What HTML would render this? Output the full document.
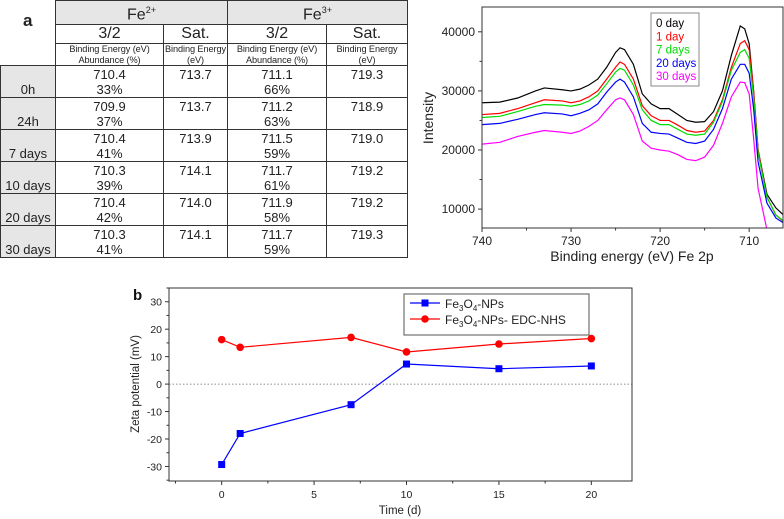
<!DOCTYPE html>
<html><head><meta charset="utf-8">
<style>
body{margin:0;width:784px;height:519px;background:#fff;font-family:"Liberation Sans",sans-serif;overflow:hidden;position:relative}
table{position:absolute;left:0;top:0;border-collapse:collapse;table-layout:fixed}
td{border:1px solid #333;padding:0;text-align:center;color:#222;font-size:13px;line-height:15px;overflow:hidden}
.g{background:#e6e6e6}
.h{font-size:16px;height:18px;line-height:18px}
.s{font-size:9.2px;line-height:10.5px;height:21px;vertical-align:top;white-space:nowrap;letter-spacing:-0.1px}
.r{height:30px;vertical-align:top;padding-top:1px}
.rh{text-align:center;vertical-align:bottom;background:#e6e6e6;height:30px;line-height:14px}
svg{position:absolute;left:0;top:0}
</style></head><body>
<table>
<colgroup><col style="width:55px"><col style="width:108px"><col style="width:64px"><col style="width:99px"><col style="width:81px"></colgroup>
<tr><td rowspan="3" style="border:none;border-right:1px solid #333;vertical-align:top;font-weight:bold;font-size:17px;padding-top:12px">a</td>
<td colspan="2" class="g h">Fe<sup style="font-size:9px">2+</sup></td>
<td colspan="2" class="g h">Fe<sup style="font-size:9px">3+</sup></td></tr>
<tr><td class="h">3/2</td><td class="h">Sat.</td><td class="h">3/2</td><td class="h">Sat.</td></tr>
<tr><td class="s">Binding Energy (eV)<br>Abundance (%)</td><td class="s">Binding Energy<br>(eV)</td><td class="s">Binding Energy (eV)<br>Abundance (%)</td><td class="s">Binding Energy<br>(eV)</td></tr>
<tr><td class="rh">0h</td><td class="r">710.4<br>33%</td><td class="r">713.7</td><td class="r">711.1<br>66%</td><td class="r">719.3</td></tr>
<tr><td class="rh">24h</td><td class="r">709.9<br>37%</td><td class="r">713.7</td><td class="r">711.2<br>63%</td><td class="r">718.9</td></tr>
<tr><td class="rh">7 days</td><td class="r">710.4<br>41%</td><td class="r">713.9</td><td class="r">711.5<br>59%</td><td class="r">719.0</td></tr>
<tr><td class="rh">10 days</td><td class="r">710.3<br>39%</td><td class="r">714.1</td><td class="r">711.7<br>61%</td><td class="r">719.2</td></tr>
<tr><td class="rh">20 days</td><td class="r">710.4<br>42%</td><td class="r">714.0</td><td class="r">711.9<br>58%</td><td class="r">719.2</td></tr>
<tr><td class="rh">30 days</td><td class="r">710.3<br>41%</td><td class="r">714.1</td><td class="r">711.7<br>59%</td><td class="r">719.3</td></tr>
</table>
<svg id="c" width="784" height="519" xmlns="http://www.w3.org/2000/svg" font-family="Liberation Sans, sans-serif"></svg>
<script>
const energies=[740,738,736,734,733,731,730,729,728,727,726,725,724.5,724,723,722,721,720,719,718,717,716,715,714,713,712,711,710.5,710,709.5,709,708,707,706];
const xpsLabels=["0 day","1 day","7 days","20 days","30 days"];
const xpsColors=["#000","#f00","#0d0","#00f","#f0f"];
const day0=[28000,28100,28800,30000,30500,30200,30000,30300,31000,32000,34000,36500,37300,37000,34500,29500,27800,27000,27000,26000,25000,24700,24800,26500,30000,36000,41000,40500,38000,30000,20000,12500,10200,8800];
const day1=[26000,26200,27000,28000,28500,28300,28000,28300,29000,30000,32000,34000,34900,34500,32000,27500,25800,25000,25000,24200,23300,23000,23200,25000,28500,34000,38000,38500,37000,30000,20000,12000,9000,7700];
const day7=[25500,25700,26500,27400,27700,27600,27400,27700,28300,29300,31200,33200,33800,33500,31000,26800,25000,24300,24300,23500,22700,22500,22700,24700,28200,33500,36500,37000,35500,29000,19500,12000,9000,7800];
const day20=[24300,24500,25200,26000,26300,26100,25800,26200,26800,27800,29800,31500,32000,31500,29000,24500,23000,22800,22700,22000,21300,21100,21500,23500,27000,32000,34500,34500,33000,27000,18000,11000,8500,7500];
const day30=[21000,21300,22300,23000,23300,23000,22800,23200,24000,25000,26800,28500,28800,28500,26000,21500,20300,20000,19800,19200,18400,18200,18800,20800,24500,29000,31500,31400,29500,22000,13500,6500,2000,0];
const xpsTicksX=[740,730,720,710];
const xpsTicksY=[10000,20000,30000,40000];
const days=[0,1,7,10,15,20];
const zetaNP=[-29.3,-18,-7.5,7.3,5.6,6.6];
const zetaEDC=[16.2,13.4,17,11.7,14.6,16.6];
const zTicksX=[0,5,10,15,20];
const zTicksY=[-30,-20,-10,0,10,20,30];

const svg=document.getElementById('c');
const NS="http://www.w3.org/2000/svg";
function mk(t,a,p){const e=document.createElementNS(NS,t);for(const k in a)e.setAttribute(k,a[k]);(p||svg).appendChild(e);return e;}

const A={l:482,r:783,t:7,b:228,x0:740,x1:706.2,y0:6800,y1:44200};
const ax=v=>A.l+(v-A.x0)/(A.x1-A.x0)*(A.r-A.l);
const ay=v=>A.b-(v-A.y0)/(A.y1-A.y0)*(A.b-A.t);
const ga=mk('g',{});


mk('defs',{},ga).innerHTML='<clipPath id="ca"><rect x="482" y="7" width="301" height="221"/></clipPath>';
const series=[day0,day1,day7,day20,day30];
series.forEach((s,i)=>{
  const p=mk('polyline',{points:s.map((v,j)=>ax(energies[j])+','+ay(v)).join(' '),fill:'none',stroke:xpsColors[i],'stroke-width':1.2,'clip-path':'url(#ca)'},ga);
  
  
});
mk('rect',{x:A.l,y:A.t,width:A.r-A.l,height:A.b-A.t,fill:'none',stroke:'#333','stroke-width':1},ga);
xpsTicksX.forEach(v=>{const x=ax(v);mk('line',{x1:x,x2:x,y1:A.b,y2:A.b+4,stroke:'#333'},ga);
  const t=mk('text',{x:x,y:A.b+17,'text-anchor':'middle','font-size':12,fill:'#222'},ga);t.textContent=v;});
for(let v=735;v>706;v-=10){const x=ax(v);mk('line',{x1:x,x2:x,y1:A.b,y2:A.b+2.5,stroke:'#333'},ga);}
xpsTicksY.forEach(v=>{const y=ay(v);mk('line',{x1:A.l-4,x2:A.l,y1:y,y2:y,stroke:'#333'},ga);
  const t=mk('text',{x:A.l-7,y:y+4,'text-anchor':'end','font-size':12,fill:'#222'},ga);t.textContent=v;});
for(let v=15000;v<44000;v+=10000){const y=ay(v);mk('line',{x1:A.l-2.5,x2:A.l,y1:y,y2:y,stroke:'#333'},ga);}
let t=mk('text',{x:632,y:261,'text-anchor':'middle','font-size':14,fill:'#222'},ga);t.textContent='Binding energy (eV) Fe 2p';

t=mk('text',{x:0,y:0,'text-anchor':'middle','font-size':14,fill:'#222',transform:'translate(433,118) rotate(-90)'},ga);t.textContent='Intensity';

const lg=mk('g',{},ga);


mk('rect',{x:651,y:13,width:48,height:73,fill:'#fff',stroke:'#888'},lg);
xpsLabels.forEach((n,i)=>{const e=mk('text',{x:656,y:27+i*13.3,'font-size':11.5,fill:xpsColors[i]},lg);e.textContent=n;});

const B={l:169,r:632,t:288,b:481,x0:-2.85,x1:22.2,y0:-35.3,y1:35};
const bx=v=>B.l+(v-B.x0)/(B.x1-B.x0)*(B.r-B.l);
const by=v=>B.b-(v-B.y0)/(B.y1-B.y0)*(B.b-B.t);
const gb=mk('g',{});


mk('line',{x1:B.l,x2:B.r,y1:by(0),y2:by(0),stroke:'#666','stroke-dasharray':'1.5,2','stroke-width':0.8},gb);
function drawSeries(vals,col,sq,name){
  const p=mk('polyline',{points:vals.map((v,i)=>bx(days[i])+','+by(v)).join(' '),fill:'none',stroke:col,'stroke-width':1.2},gb);
  
  
  vals.forEach((v,i)=>{const m=sq?mk('rect',{x:bx(days[i])-3.5,y:by(v)-3.5,width:7,height:7,fill:col},gb):mk('circle',{cx:bx(days[i]),cy:by(v),r:3.8,fill:col},gb);
    
    });
}
drawSeries(zetaEDC,'#f00',false,'edc-nhs');
drawSeries(zetaNP,'#00f',true,'nps');
mk('rect',{x:B.l,y:B.t,width:B.r-B.l,height:B.b-B.t,fill:'none',stroke:'#333','stroke-width':1},gb);
zTicksX.forEach(v=>{const x=bx(v);mk('line',{x1:x,x2:x,y1:B.b,y2:B.b+4,stroke:'#333'},gb);
  const e=mk('text',{x:x,y:B.b+17,'text-anchor':'middle','font-size':10.5,fill:'#222'},gb);e.textContent=v;});
for(let v=-2.5;v<22.3;v+=5){const x=bx(v);mk('line',{x1:x,x2:x,y1:B.b,y2:B.b+2.5,stroke:'#333'},gb);}
zTicksY.forEach(v=>{const y=by(v);mk('line',{x1:B.l-4,x2:B.l,y1:y,y2:y,stroke:'#333'},gb);
  const e=mk('text',{x:B.l-7,y:y+4,'text-anchor':'end','font-size':10.5,fill:'#222'},gb);e.textContent=v;});
for(let v=-35;v<36;v+=10){const y=by(v);mk('line',{x1:B.l-2.5,x2:B.l,y1:y,y2:y,stroke:'#333'},gb);}
t=mk('text',{x:400,y:514,'text-anchor':'middle','font-size':11.5,fill:'#222'},gb);t.textContent='Time (d)';

t=mk('text',{x:0,y:0,'text-anchor':'middle','font-size':11.5,fill:'#222',transform:'translate(139,384) rotate(-90)'},gb);t.textContent='Zeta potential (mV)';

t=mk('text',{x:133,y:300,'font-size':15,'font-weight':'bold',fill:'#111'},gb);t.textContent='b';

const lg2=mk('g',{},gb);


mk('rect',{x:404,y:294,width:185,height:41,fill:'#fff',stroke:'#555'},lg2);
mk('line',{x1:410,x2:440,y1:303,y2:303,stroke:'#00f','stroke-width':1.2},lg2);
mk('rect',{x:421.5,y:299.5,width:7,height:7,fill:'#00f'},lg2);
mk('line',{x1:410,x2:440,y1:319,y2:319,stroke:'#f00','stroke-width':1.2},lg2);
mk('circle',{cx:425,cy:319,r:3.8,fill:'#f00'},lg2);
let e=mk('text',{x:445,y:308,'font-size':12,fill:'#222'},lg2);e.innerHTML='Fe<tspan font-size="8" dy="3">3</tspan><tspan dy="-3">O</tspan><tspan font-size="8" dy="3">4</tspan><tspan dy="-3">-NPs</tspan>';
e=mk('text',{x:445,y:324,'font-size':12,fill:'#222'},lg2);e.innerHTML='Fe<tspan font-size="8" dy="3">3</tspan><tspan dy="-3">O</tspan><tspan font-size="8" dy="3">4</tspan><tspan dy="-3">-NPs- EDC-NHS</tspan>';
</script>
</body></html>
